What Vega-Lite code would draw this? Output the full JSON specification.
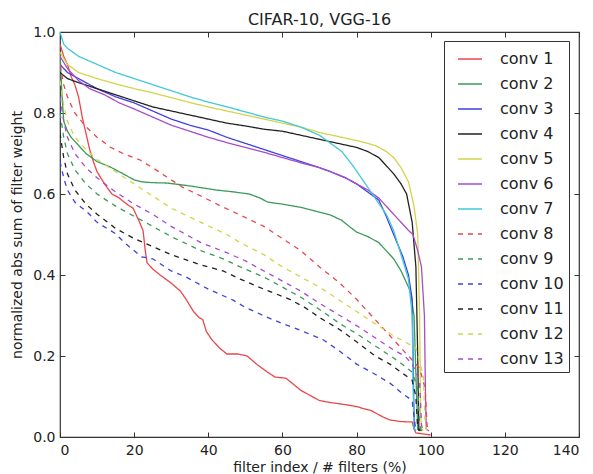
{
  "$schema": "https://vega.github.io/schema/vega-lite/v6.json",
  "autosize": "none",
  "padding": {"left": 60, "top": 32, "right": 14, "bottom": 37},
  "width": 519,
  "height": 405,
  "background": "white",
  "title": {"text": "CIFAR-10, VGG-16", "fontSize": 16, "fontWeight": "normal", "font": "DejaVu Sans", "color": "#222", "offset": -3},
  "config": {
    "view": {"stroke": "#333", "strokeWidth": 1.2},
    "font": "DejaVu Sans",
    "axis": {"grid": false, "domain": false, "labelFont": "DejaVu Sans", "titleFont": "DejaVu Sans", "labelColor": "#222", "titleColor": "#222", "labelFontSize": 14, "titleFontSize": 14, "titleFontWeight": "normal", "tickColor": "#333", "tickSize": -5, "tickWidth": 1}
  },
  "data": {"values": [
    {"s":"conv 1","x":0,"y":0.97},{"s":"conv 1","x":1,"y":0.94},{"s":"conv 1","x":2,"y":0.92},{"s":"conv 1","x":3,"y":0.89},{"s":"conv 1","x":4,"y":0.87},{"s":"conv 1","x":5,"y":0.84},{"s":"conv 1","x":6,"y":0.79},{"s":"conv 1","x":7,"y":0.75},{"s":"conv 1","x":8,"y":0.71},{"s":"conv 1","x":9,"y":0.68},{"s":"conv 1","x":10,"y":0.655},{"s":"conv 1","x":11,"y":0.64},{"s":"conv 1","x":12,"y":0.625},{"s":"conv 1","x":14,"y":0.6},{"s":"conv 1","x":16,"y":0.59},{"s":"conv 1","x":18,"y":0.575},{"s":"conv 1","x":19.7,"y":0.565},{"s":"conv 1","x":21,"y":0.54},{"s":"conv 1","x":22.4,"y":0.51},{"s":"conv 1","x":23,"y":0.46},{"s":"conv 1","x":23.5,"y":0.43},{"s":"conv 1","x":25,"y":0.415},{"s":"conv 1","x":27,"y":0.4},{"s":"conv 1","x":30,"y":0.38},{"s":"conv 1","x":32.5,"y":0.36},{"s":"conv 1","x":34,"y":0.34},{"s":"conv 1","x":36,"y":0.31},{"s":"conv 1","x":37.5,"y":0.295},{"s":"conv 1","x":38.5,"y":0.29},{"s":"conv 1","x":39.5,"y":0.26},{"s":"conv 1","x":41,"y":0.24},{"s":"conv 1","x":43,"y":0.22},{"s":"conv 1","x":45,"y":0.205},{"s":"conv 1","x":48,"y":0.205},{"s":"conv 1","x":50.5,"y":0.2},{"s":"conv 1","x":53,"y":0.18},{"s":"conv 1","x":56,"y":0.16},{"s":"conv 1","x":58,"y":0.148},{"s":"conv 1","x":61,"y":0.145},{"s":"conv 1","x":63,"y":0.13},{"s":"conv 1","x":65,"y":0.115},{"s":"conv 1","x":68,"y":0.1},{"s":"conv 1","x":70,"y":0.09},{"s":"conv 1","x":73,"y":0.085},{"s":"conv 1","x":77,"y":0.08},{"s":"conv 1","x":80,"y":0.075},{"s":"conv 1","x":84,"y":0.065},{"s":"conv 1","x":87,"y":0.05},{"s":"conv 1","x":89,"y":0.042},{"s":"conv 1","x":92,"y":0.038},{"s":"conv 1","x":95,"y":0.037},{"s":"conv 1","x":95.5,"y":0.02},{"s":"conv 1","x":96,"y":0.01},{"s":"conv 1","x":100,"y":0.005},

    {"s":"conv 2","x":0,"y":0.95},{"s":"conv 2","x":0.5,"y":0.85},{"s":"conv 2","x":1,"y":0.78},{"s":"conv 2","x":2,"y":0.755},{"s":"conv 2","x":3,"y":0.74},{"s":"conv 2","x":5,"y":0.72},{"s":"conv 2","x":7,"y":0.7},{"s":"conv 2","x":10,"y":0.68},{"s":"conv 2","x":13.5,"y":0.667},{"s":"conv 2","x":17,"y":0.65},{"s":"conv 2","x":20,"y":0.635},{"s":"conv 2","x":22,"y":0.63},{"s":"conv 2","x":25,"y":0.628},{"s":"conv 2","x":29,"y":0.627},{"s":"conv 2","x":35,"y":0.62},{"s":"conv 2","x":42,"y":0.61},{"s":"conv 2","x":47,"y":0.605},{"s":"conv 2","x":51,"y":0.6},{"s":"conv 2","x":54,"y":0.59},{"s":"conv 2","x":56,"y":0.58},{"s":"conv 2","x":60,"y":0.575},{"s":"conv 2","x":65,"y":0.567},{"s":"conv 2","x":70,"y":0.555},{"s":"conv 2","x":73,"y":0.548},{"s":"conv 2","x":76,"y":0.535},{"s":"conv 2","x":78,"y":0.52},{"s":"conv 2","x":80,"y":0.506},{"s":"conv 2","x":83,"y":0.495},{"s":"conv 2","x":86,"y":0.48},{"s":"conv 2","x":88,"y":0.46},{"s":"conv 2","x":90,"y":0.44},{"s":"conv 2","x":92,"y":0.41},{"s":"conv 2","x":94.5,"y":0.36},{"s":"conv 2","x":95.5,"y":0.3},{"s":"conv 2","x":96.2,"y":0.1},{"s":"conv 2","x":96.5,"y":0.02},{"s":"conv 2","x":97,"y":0.015},

    {"s":"conv 3","x":0,"y":0.92},{"s":"conv 3","x":2,"y":0.9},{"s":"conv 3","x":5,"y":0.885},{"s":"conv 3","x":10,"y":0.86},{"s":"conv 3","x":15,"y":0.84},{"s":"conv 3","x":20,"y":0.825},{"s":"conv 3","x":25,"y":0.805},{"s":"conv 3","x":30,"y":0.785},{"s":"conv 3","x":35,"y":0.77},{"s":"conv 3","x":40,"y":0.758},{"s":"conv 3","x":45,"y":0.74},{"s":"conv 3","x":50,"y":0.725},{"s":"conv 3","x":55,"y":0.71},{"s":"conv 3","x":60,"y":0.695},{"s":"conv 3","x":65,"y":0.68},{"s":"conv 3","x":70,"y":0.665},{"s":"conv 3","x":73,"y":0.655},{"s":"conv 3","x":77,"y":0.64},{"s":"conv 3","x":80,"y":0.625},{"s":"conv 3","x":83,"y":0.605},{"s":"conv 3","x":86,"y":0.585},{"s":"conv 3","x":88,"y":0.545},{"s":"conv 3","x":90,"y":0.5},{"s":"conv 3","x":92.5,"y":0.445},{"s":"conv 3","x":94,"y":0.4},{"s":"conv 3","x":95,"y":0.34},{"s":"conv 3","x":95.4,"y":0.1},{"s":"conv 3","x":95.6,"y":0.02},{"s":"conv 3","x":96,"y":0.015},

    {"s":"conv 4","x":0,"y":0.9},{"s":"conv 4","x":2,"y":0.885},{"s":"conv 4","x":5,"y":0.875},{"s":"conv 4","x":10,"y":0.86},{"s":"conv 4","x":15,"y":0.845},{"s":"conv 4","x":20,"y":0.83},{"s":"conv 4","x":25,"y":0.815},{"s":"conv 4","x":30,"y":0.805},{"s":"conv 4","x":35,"y":0.795},{"s":"conv 4","x":40,"y":0.785},{"s":"conv 4","x":45,"y":0.775},{"s":"conv 4","x":50,"y":0.768},{"s":"conv 4","x":55,"y":0.76},{"s":"conv 4","x":60,"y":0.755},{"s":"conv 4","x":65,"y":0.745},{"s":"conv 4","x":70,"y":0.735},{"s":"conv 4","x":75,"y":0.725},{"s":"conv 4","x":80,"y":0.715},{"s":"conv 4","x":83,"y":0.705},{"s":"conv 4","x":86,"y":0.69},{"s":"conv 4","x":88,"y":0.67},{"s":"conv 4","x":90,"y":0.65},{"s":"conv 4","x":92,"y":0.625},{"s":"conv 4","x":93.5,"y":0.6},{"s":"conv 4","x":95,"y":0.53},{"s":"conv 4","x":96,"y":0.42},{"s":"conv 4","x":96.5,"y":0.2},{"s":"conv 4","x":96.8,"y":0.02},{"s":"conv 4","x":97.5,"y":0.015},

    {"s":"conv 5","x":0,"y":0.95},{"s":"conv 5","x":2,"y":0.92},{"s":"conv 5","x":5,"y":0.9},{"s":"conv 5","x":10,"y":0.885},{"s":"conv 5","x":15,"y":0.872},{"s":"conv 5","x":20,"y":0.86},{"s":"conv 5","x":25,"y":0.85},{"s":"conv 5","x":30,"y":0.838},{"s":"conv 5","x":35,"y":0.826},{"s":"conv 5","x":40,"y":0.815},{"s":"conv 5","x":45,"y":0.805},{"s":"conv 5","x":50,"y":0.795},{"s":"conv 5","x":55,"y":0.785},{"s":"conv 5","x":60,"y":0.775},{"s":"conv 5","x":65,"y":0.765},{"s":"conv 5","x":70,"y":0.752},{"s":"conv 5","x":75,"y":0.742},{"s":"conv 5","x":80,"y":0.732},{"s":"conv 5","x":85,"y":0.72},{"s":"conv 5","x":88,"y":0.705},{"s":"conv 5","x":90,"y":0.69},{"s":"conv 5","x":92,"y":0.665},{"s":"conv 5","x":94,"y":0.63},{"s":"conv 5","x":95.5,"y":0.57},{"s":"conv 5","x":96.5,"y":0.5},{"s":"conv 5","x":97,"y":0.3},{"s":"conv 5","x":97.3,"y":0.05},{"s":"conv 5","x":97.6,"y":0.02},{"s":"conv 5","x":98,"y":0.015},

    {"s":"conv 6","x":0,"y":0.94},{"s":"conv 6","x":2,"y":0.91},{"s":"conv 6","x":5,"y":0.88},{"s":"conv 6","x":8,"y":0.86},{"s":"conv 6","x":12,"y":0.845},{"s":"conv 6","x":16,"y":0.825},{"s":"conv 6","x":20,"y":0.81},{"s":"conv 6","x":25,"y":0.79},{"s":"conv 6","x":30,"y":0.77},{"s":"conv 6","x":35,"y":0.755},{"s":"conv 6","x":40,"y":0.74},{"s":"conv 6","x":45,"y":0.727},{"s":"conv 6","x":50,"y":0.715},{"s":"conv 6","x":55,"y":0.703},{"s":"conv 6","x":60,"y":0.69},{"s":"conv 6","x":65,"y":0.677},{"s":"conv 6","x":70,"y":0.665},{"s":"conv 6","x":73,"y":0.655},{"s":"conv 6","x":77,"y":0.64},{"s":"conv 6","x":80,"y":0.625},{"s":"conv 6","x":83,"y":0.61},{"s":"conv 6","x":86,"y":0.59},{"s":"conv 6","x":88,"y":0.57},{"s":"conv 6","x":90,"y":0.55},{"s":"conv 6","x":92,"y":0.53},{"s":"conv 6","x":94,"y":0.51},{"s":"conv 6","x":95.2,"y":0.5},{"s":"conv 6","x":96.5,"y":0.46},{"s":"conv 6","x":97.5,"y":0.42},{"s":"conv 6","x":98.3,"y":0.3},{"s":"conv 6","x":98.6,"y":0.1},{"s":"conv 6","x":98.8,"y":0.02},{"s":"conv 6","x":99.5,"y":0.015},

    {"s":"conv 7","x":0,"y":1.0},{"s":"conv 7","x":1,"y":0.97},{"s":"conv 7","x":2,"y":0.96},{"s":"conv 7","x":5,"y":0.94},{"s":"conv 7","x":10,"y":0.92},{"s":"conv 7","x":15,"y":0.9},{"s":"conv 7","x":20,"y":0.885},{"s":"conv 7","x":25,"y":0.87},{"s":"conv 7","x":30,"y":0.855},{"s":"conv 7","x":35,"y":0.84},{"s":"conv 7","x":40,"y":0.827},{"s":"conv 7","x":45,"y":0.815},{"s":"conv 7","x":50,"y":0.803},{"s":"conv 7","x":55,"y":0.79},{"s":"conv 7","x":60,"y":0.78},{"s":"conv 7","x":65,"y":0.765},{"s":"conv 7","x":70,"y":0.745},{"s":"conv 7","x":73,"y":0.725},{"s":"conv 7","x":76,"y":0.705},{"s":"conv 7","x":79,"y":0.67},{"s":"conv 7","x":82,"y":0.63},{"s":"conv 7","x":85,"y":0.59},{"s":"conv 7","x":88,"y":0.55},{"s":"conv 7","x":90,"y":0.51},{"s":"conv 7","x":92,"y":0.45},{"s":"conv 7","x":94,"y":0.39},{"s":"conv 7","x":95,"y":0.3},{"s":"conv 7","x":95.3,"y":0.1},{"s":"conv 7","x":95.5,"y":0.02},{"s":"conv 7","x":96,"y":0.015},

    {"s":"conv 8","x":0,"y":0.92},{"s":"conv 8","x":1,"y":0.87},{"s":"conv 8","x":2,"y":0.84},{"s":"conv 8","x":4,"y":0.8},{"s":"conv 8","x":7,"y":0.766},{"s":"conv 8","x":10,"y":0.74},{"s":"conv 8","x":13.5,"y":0.716},{"s":"conv 8","x":17,"y":0.7},{"s":"conv 8","x":21.6,"y":0.684},{"s":"conv 8","x":25,"y":0.665},{"s":"conv 8","x":28.8,"y":0.642},{"s":"conv 8","x":33,"y":0.617},{"s":"conv 8","x":38,"y":0.595},{"s":"conv 8","x":43,"y":0.572},{"s":"conv 8","x":48.6,"y":0.548},{"s":"conv 8","x":55,"y":0.52},{"s":"conv 8","x":60,"y":0.49},{"s":"conv 8","x":65,"y":0.46},{"s":"conv 8","x":70,"y":0.42},{"s":"conv 8","x":75.5,"y":0.38},{"s":"conv 8","x":80,"y":0.34},{"s":"conv 8","x":85,"y":0.29},{"s":"conv 8","x":89,"y":0.25},{"s":"conv 8","x":92,"y":0.22},{"s":"conv 8","x":95,"y":0.19},{"s":"conv 8","x":97,"y":0.17},{"s":"conv 8","x":98.5,"y":0.12},{"s":"conv 8","x":99,"y":0.03},{"s":"conv 8","x":99.5,"y":0.015},

    {"s":"conv 9","x":0,"y":0.8},{"s":"conv 9","x":1,"y":0.74},{"s":"conv 9","x":2,"y":0.7},{"s":"conv 9","x":4,"y":0.66},{"s":"conv 9","x":7,"y":0.625},{"s":"conv 9","x":10,"y":0.6},{"s":"conv 9","x":15,"y":0.57},{"s":"conv 9","x":20,"y":0.545},{"s":"conv 9","x":25,"y":0.52},{"s":"conv 9","x":30,"y":0.495},{"s":"conv 9","x":38,"y":0.46},{"s":"conv 9","x":44,"y":0.44},{"s":"conv 9","x":48.6,"y":0.42},{"s":"conv 9","x":55,"y":0.395},{"s":"conv 9","x":60,"y":0.37},{"s":"conv 9","x":65,"y":0.345},{"s":"conv 9","x":70,"y":0.315},{"s":"conv 9","x":75.5,"y":0.28},{"s":"conv 9","x":80,"y":0.255},{"s":"conv 9","x":85,"y":0.225},{"s":"conv 9","x":90,"y":0.195},{"s":"conv 9","x":93,"y":0.175},{"s":"conv 9","x":95,"y":0.16},{"s":"conv 9","x":96.5,"y":0.12},{"s":"conv 9","x":97,"y":0.03},{"s":"conv 9","x":97.5,"y":0.015},

    {"s":"conv 10","x":0,"y":0.68},{"s":"conv 10","x":1,"y":0.64},{"s":"conv 10","x":2,"y":0.61},{"s":"conv 10","x":4,"y":0.58},{"s":"conv 10","x":7.6,"y":0.553},{"s":"conv 10","x":10,"y":0.53},{"s":"conv 10","x":14.8,"y":0.503},{"s":"conv 10","x":18,"y":0.475},{"s":"conv 10","x":22,"y":0.445},{"s":"conv 10","x":25,"y":0.44},{"s":"conv 10","x":30,"y":0.41},{"s":"conv 10","x":34,"y":0.395},{"s":"conv 10","x":40,"y":0.365},{"s":"conv 10","x":46.7,"y":0.338},{"s":"conv 10","x":50,"y":0.32},{"s":"conv 10","x":55.8,"y":0.296},{"s":"conv 10","x":60,"y":0.28},{"s":"conv 10","x":64.7,"y":0.264},{"s":"conv 10","x":71,"y":0.24},{"s":"conv 10","x":75,"y":0.215},{"s":"conv 10","x":80,"y":0.18},{"s":"conv 10","x":85,"y":0.155},{"s":"conv 10","x":89,"y":0.133},{"s":"conv 10","x":92,"y":0.11},{"s":"conv 10","x":95,"y":0.09},{"s":"conv 10","x":95.5,"y":0.05},{"s":"conv 10","x":96,"y":0.015},

    {"s":"conv 11","x":0,"y":0.75},{"s":"conv 11","x":1,"y":0.69},{"s":"conv 11","x":2,"y":0.65},{"s":"conv 11","x":4,"y":0.61},{"s":"conv 11","x":7,"y":0.575},{"s":"conv 11","x":10,"y":0.55},{"s":"conv 11","x":15,"y":0.515},{"s":"conv 11","x":20,"y":0.49},{"s":"conv 11","x":25,"y":0.47},{"s":"conv 11","x":30,"y":0.45},{"s":"conv 11","x":38,"y":0.425},{"s":"conv 11","x":44,"y":0.41},{"s":"conv 11","x":48.6,"y":0.39},{"s":"conv 11","x":55,"y":0.365},{"s":"conv 11","x":62,"y":0.34},{"s":"conv 11","x":66,"y":0.32},{"s":"conv 11","x":70,"y":0.295},{"s":"conv 11","x":75.5,"y":0.265},{"s":"conv 11","x":80,"y":0.235},{"s":"conv 11","x":85,"y":0.2},{"s":"conv 11","x":89,"y":0.18},{"s":"conv 11","x":92,"y":0.16},{"s":"conv 11","x":95,"y":0.14},{"s":"conv 11","x":96,"y":0.1},{"s":"conv 11","x":96.5,"y":0.02},{"s":"conv 11","x":97,"y":0.015},

    {"s":"conv 12","x":0,"y":0.88},{"s":"conv 12","x":1,"y":0.82},{"s":"conv 12","x":2,"y":0.78},{"s":"conv 12","x":4,"y":0.74},{"s":"conv 12","x":7,"y":0.71},{"s":"conv 12","x":10,"y":0.685},{"s":"conv 12","x":15,"y":0.655},{"s":"conv 12","x":20,"y":0.625},{"s":"conv 12","x":25,"y":0.595},{"s":"conv 12","x":30,"y":0.565},{"s":"conv 12","x":38,"y":0.53},{"s":"conv 12","x":45,"y":0.5},{"s":"conv 12","x":48.6,"y":0.48},{"s":"conv 12","x":55,"y":0.45},{"s":"conv 12","x":60,"y":0.42},{"s":"conv 12","x":65,"y":0.395},{"s":"conv 12","x":70,"y":0.37},{"s":"conv 12","x":75,"y":0.34},{"s":"conv 12","x":80,"y":0.31},{"s":"conv 12","x":85,"y":0.28},{"s":"conv 12","x":90,"y":0.25},{"s":"conv 12","x":94,"y":0.23},{"s":"conv 12","x":96,"y":0.22},{"s":"conv 12","x":98,"y":0.15},{"s":"conv 12","x":98.5,"y":0.03},{"s":"conv 12","x":99,"y":0.015},

    {"s":"conv 13","x":0,"y":0.84},{"s":"conv 13","x":1,"y":0.78},{"s":"conv 13","x":2,"y":0.74},{"s":"conv 13","x":4,"y":0.7},{"s":"conv 13","x":7,"y":0.665},{"s":"conv 13","x":10,"y":0.64},{"s":"conv 13","x":15,"y":0.605},{"s":"conv 13","x":20,"y":0.575},{"s":"conv 13","x":25,"y":0.55},{"s":"conv 13","x":30,"y":0.52},{"s":"conv 13","x":38,"y":0.48},{"s":"conv 13","x":45,"y":0.455},{"s":"conv 13","x":50,"y":0.435},{"s":"conv 13","x":55,"y":0.41},{"s":"conv 13","x":60,"y":0.385},{"s":"conv 13","x":65,"y":0.36},{"s":"conv 13","x":70,"y":0.33},{"s":"conv 13","x":75.5,"y":0.3},{"s":"conv 13","x":80,"y":0.275},{"s":"conv 13","x":85,"y":0.245},{"s":"conv 13","x":90,"y":0.215},{"s":"conv 13","x":93,"y":0.2},{"s":"conv 13","x":95,"y":0.18},{"s":"conv 13","x":97,"y":0.14},{"s":"conv 13","x":97.5,"y":0.03},{"s":"conv 13","x":98,"y":0.015}
  ]},
  "layer": [
    {
      "mark": {"type": "line", "strokeWidth": 1.3, "clip": true},
      "encoding": {
        "x": {"field": "x", "type": "quantitative", "scale": {"domain": [0, 140], "nice": false, "zero": false},
              "axis": {"orient": "bottom", "values": [0, 20, 40, 60, 80, 100, 120, 140], "format": "d", "title": "filter index / # filters (%)", "labelPadding": 11, "titleY": 30, "titleBaseline": "middle"}},
        "y": {"field": "y", "type": "quantitative", "scale": {"domain": [0, 1], "nice": false, "zero": false},
              "axis": {"orient": "left", "values": [0, 0.2, 0.4, 0.6, 0.8, 1.0], "format": ".1f", "title": "normalized abs sum of filter weight", "labelPadding": 10, "titleX": -43, "titleBaseline": "middle"}},
        "color": {"field": "s", "type": "nominal",
                  "scale": {"domain": ["conv 1","conv 2","conv 3","conv 4","conv 5","conv 6","conv 7","conv 8","conv 9","conv 10","conv 11","conv 12","conv 13"],
                            "range": ["#e8474c","#3c9a5a","#4040e0","#222222","#d4d44c","#a64cc8","#40c8d8","#e8474c","#3c9a5a","#4040e0","#222222","#d4d44c","#a64cc8"]},
                  "legend": {"title": null, "orient": "none", "legendX": 384, "legendY": 9, "strokeColor": "#333", "fillColor": "#fff", "padding": 5, "symbolOffset": 8, "labelOffset": 17, "labelFontSize": 16, "labelFont": "DejaVu Sans", "labelColor": "#222", "symbolType": "stroke", "symbolSize": 576, "symbolStrokeWidth": 1.5, "rowPadding": 4, "cornerRadius": 0}},
        "strokeDash": {"field": "s", "type": "nominal",
                  "scale": {"domain": ["conv 1","conv 2","conv 3","conv 4","conv 5","conv 6","conv 7","conv 8","conv 9","conv 10","conv 11","conv 12","conv 13"],
                            "range": [[1,0],[1,0],[1,0],[1,0],[1,0],[1,0],[1,0],[5,5],[5,5],[5,5],[5,5],[5,5],[5,5]]},
                  "legend": {"title": null, "orient": "none", "legendX": 384, "legendY": 9, "strokeColor": "#333", "fillColor": "#fff", "padding": 5, "symbolOffset": 8, "labelOffset": 17, "labelFontSize": 16, "labelFont": "DejaVu Sans", "labelColor": "#222", "symbolType": "stroke", "symbolSize": 576, "symbolStrokeWidth": 1.5, "rowPadding": 4, "cornerRadius": 0}}
      }
    },
    {
      "mark": {"type": "point", "opacity": 0},
      "encoding": {
        "x": {"field": "x", "type": "quantitative", "axis": {"orient": "top", "values": [0, 20, 40, 60, 80, 100, 120, 140], "labels": false, "title": null}},
        "y": {"field": "y", "type": "quantitative", "axis": {"orient": "right", "values": [0, 0.2, 0.4, 0.6, 0.8, 1.0], "labels": false, "title": null}}
      }
    }
  ],
  "resolve": {"axis": {"x": "independent", "y": "independent"}}
}
